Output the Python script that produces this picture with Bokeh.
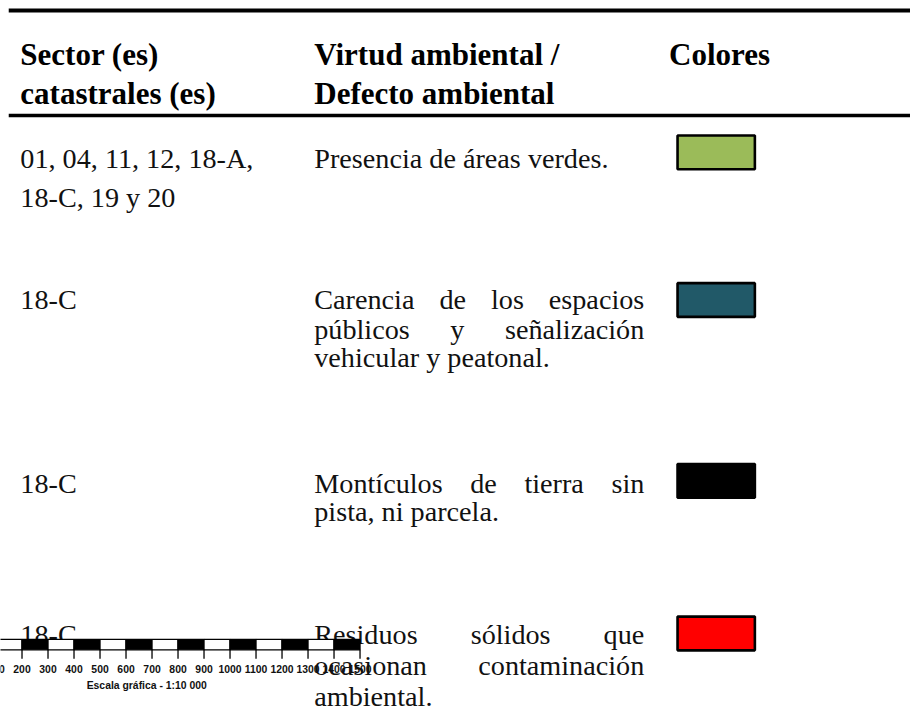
from bokeh.plotting import figure
from bokeh.models import Range1d
from bokeh.core.properties import value
from bokeh.embed import file_html
from bokeh.resources import INLINE

# ---------------- data ----------------
header_sector = ["Sector (es)", "catastrales (es)"]
header_virtud = ["Virtud ambiental /", "Defecto ambiental"]
header_colores = ["Colores"]

sectors = [
    ["01, 04, 11, 12, 18-A,", "18-C, 19 y 20"],
    ["18-C"],
    ["18-C"],
    ["18-C"],
]
descriptions = [
    ["Presencia de áreas verdes."],
    ["Carencia de los espacios", "públicos y señalización", "vehicular y peatonal."],
    ["Montículos de tierra sin", "pista, ni parcela."],
    ["Residuos sólidos que", "ocasionan contaminación", "ambiental."],
]
colors = ["#9BBB59", "#215968", "#000000", "#FF0000"]

scale_values = [0, 100, 200, 300, 400, 500, 600, 700, 800, 900, 1000,
                1100, 1200, 1300, 1400, 1500]
scale_labels = ["100", "200", "300", "400", "500", "600", "700", "800", "900",
                "1000", "1100", "1200", "1300", "1400", "1500"]
scale_title = "Escala gráfica - 1:10 000"

# ---------------- layout ----------------
W, H = 910, 710            # canvas size
REF_W, REF_H = 918, 726    # coordinate frame of the drawing
SX = W / REF_W

SERIF = value("Liberation Serif")
SANS = value("Liberation Sans")
BODY_FS = 28.2
HEAD_FS = 31.0

col_x = [20.0, 316.5, 674.5]
col2_right = 649.5
header_baselines = [55, 95]
row_line_baselines = [[162, 201], [306, 336, 365], [494, 523], [648, 680, 712]]
box_tops = [138, 289, 474, 630]
box_h = 34.5
box_x = (683.0, 761.0)

# Times-Roman advance widths (1/1000 em), used to justify the paragraph lines
TIMES = {' ': 250, ',': 250, '.': 250, '-': 333, 'a': 444, 'b': 500, 'c': 444,
         'd': 500, 'e': 444, 'f': 333, 'g': 500, 'h': 500, 'i': 278, 'j': 278,
         'k': 500, 'l': 278, 'm': 778, 'n': 500, 'o': 500, 'p': 500, 'q': 500,
         'r': 333, 's': 389, 't': 278, 'u': 500, 'v': 500, 'w': 722, 'x': 500,
         'y': 500, 'z': 444, 'á': 444, 'é': 444, 'í': 278, 'ó': 500, 'ú': 500,
         'ñ': 500, 'C': 667, 'M': 889, 'R': 667, 'P': 556, 'A': 722}


def tw(s, fs):
    # width in data units of the drawing frame
    return sum(TIMES.get(ch, 500) for ch in s) * fs / 1000.0 / SX


p = figure(width=W, height=H, x_range=Range1d(0, REF_W), y_range=Range1d(REF_H, 0),
           output_backend="svg", toolbar_location=None, min_border=0,
           x_axis_type=None, y_axis_type=None, outline_line_color=None)
p.grid.visible = False
p.background_fill_color = "white"
p.border_fill_color = "white"

# rules
p.segment(x0=[8.3, 8.3], y0=[10.3, 117.5], x1=[REF_W, REF_W], y1=[10.3, 117.5],
          line_color="black", line_width=[4, 3.5])

# header texts
hx, hy, ht = [], [], []
for ci, lines in enumerate([header_sector, header_virtud, header_colores]):
    for li, t in enumerate(lines):
        hx.append(col_x[ci]); hy.append(header_baselines[li]); ht.append(t)
p.text(x=hx, y=hy, text=ht, text_font=SERIF, text_font_style="bold",
       text_font_size=f"{HEAD_FS}px", text_baseline="alphabetic", text_align="left",
       text_color="black")

# body texts
bx, by, bt = [], [], []
for ri in range(len(sectors)):
    ys = row_line_baselines[ri]
    for li, t in enumerate(sectors[ri]):
        bx.append(col_x[0]); by.append(ys[li]); bt.append(t)
    lines = descriptions[ri]
    for li, t in enumerate(lines):
        justify = len(lines) > 1 and li < len(lines) - 1
        if not justify:
            bx.append(col_x[1]); by.append(ys[li]); bt.append(t)
            continue
        words = t.split(" ")
        total = sum(tw(w, BODY_FS) for w in words)
        gap = (col2_right - col_x[1] - total) / (len(words) - 1)
        x = col_x[1]
        for w in words:
            bx.append(x); by.append(ys[li]); bt.append(w)
            x += tw(w, BODY_FS) + gap
p.text(x=bx, y=by, text=bt, text_font=SERIF, text_font_size=f"{BODY_FS}px",
       text_baseline="alphabetic", text_align="left", text_color="#111111")

# colour boxes
p.quad(left=[box_x[0]] * 4, right=[box_x[1]] * 4,
       top=box_tops, bottom=[t + box_h for t in box_tops],
       fill_color=colors, line_color="black", line_width=2.6)

# ---------------- scale bar ----------------
# frame x = x_off + k * value
k = 0.2623
x_off = -30.76
p.extra_x_ranges = {"scale": Range1d((0 - x_off) / k, (REF_W - x_off) / k)}
bar_top, bar_bot = 653.3, 664.0
lefts = scale_values[:-1]
rights = scale_values[1:]
seg_cols = ["black" if i % 2 == 0 else "white" for i in range(len(lefts))]
p.quad(left=lefts, right=rights, top=[bar_top] * len(lefts), bottom=[bar_bot] * len(lefts),
       fill_color=seg_cols, line_color="black", line_width=1.3, x_range_name="scale")
p.segment(x0=scale_values, y0=[bar_bot] * len(scale_values), x1=scale_values,
          y1=[673] * len(scale_values), line_color="black", line_width=1.3,
          x_range_name="scale")
p.text(x=[int(s) for s in scale_labels], y=[683.5] * len(scale_labels), text=scale_labels,
       text_font=SANS, text_font_style="bold", text_font_size="10.4px",
       text_align="center", text_baseline="middle", text_color="#111111",
       x_range_name="scale")
p.text(x=[147.5], y=[700.7], text=[scale_title], text_font=SANS, text_font_style="bold",
       text_font_size="10.4px", text_align="center", text_baseline="middle",
       text_color="#111111")

open("out.html", "w").write(file_html(p, INLINE))
